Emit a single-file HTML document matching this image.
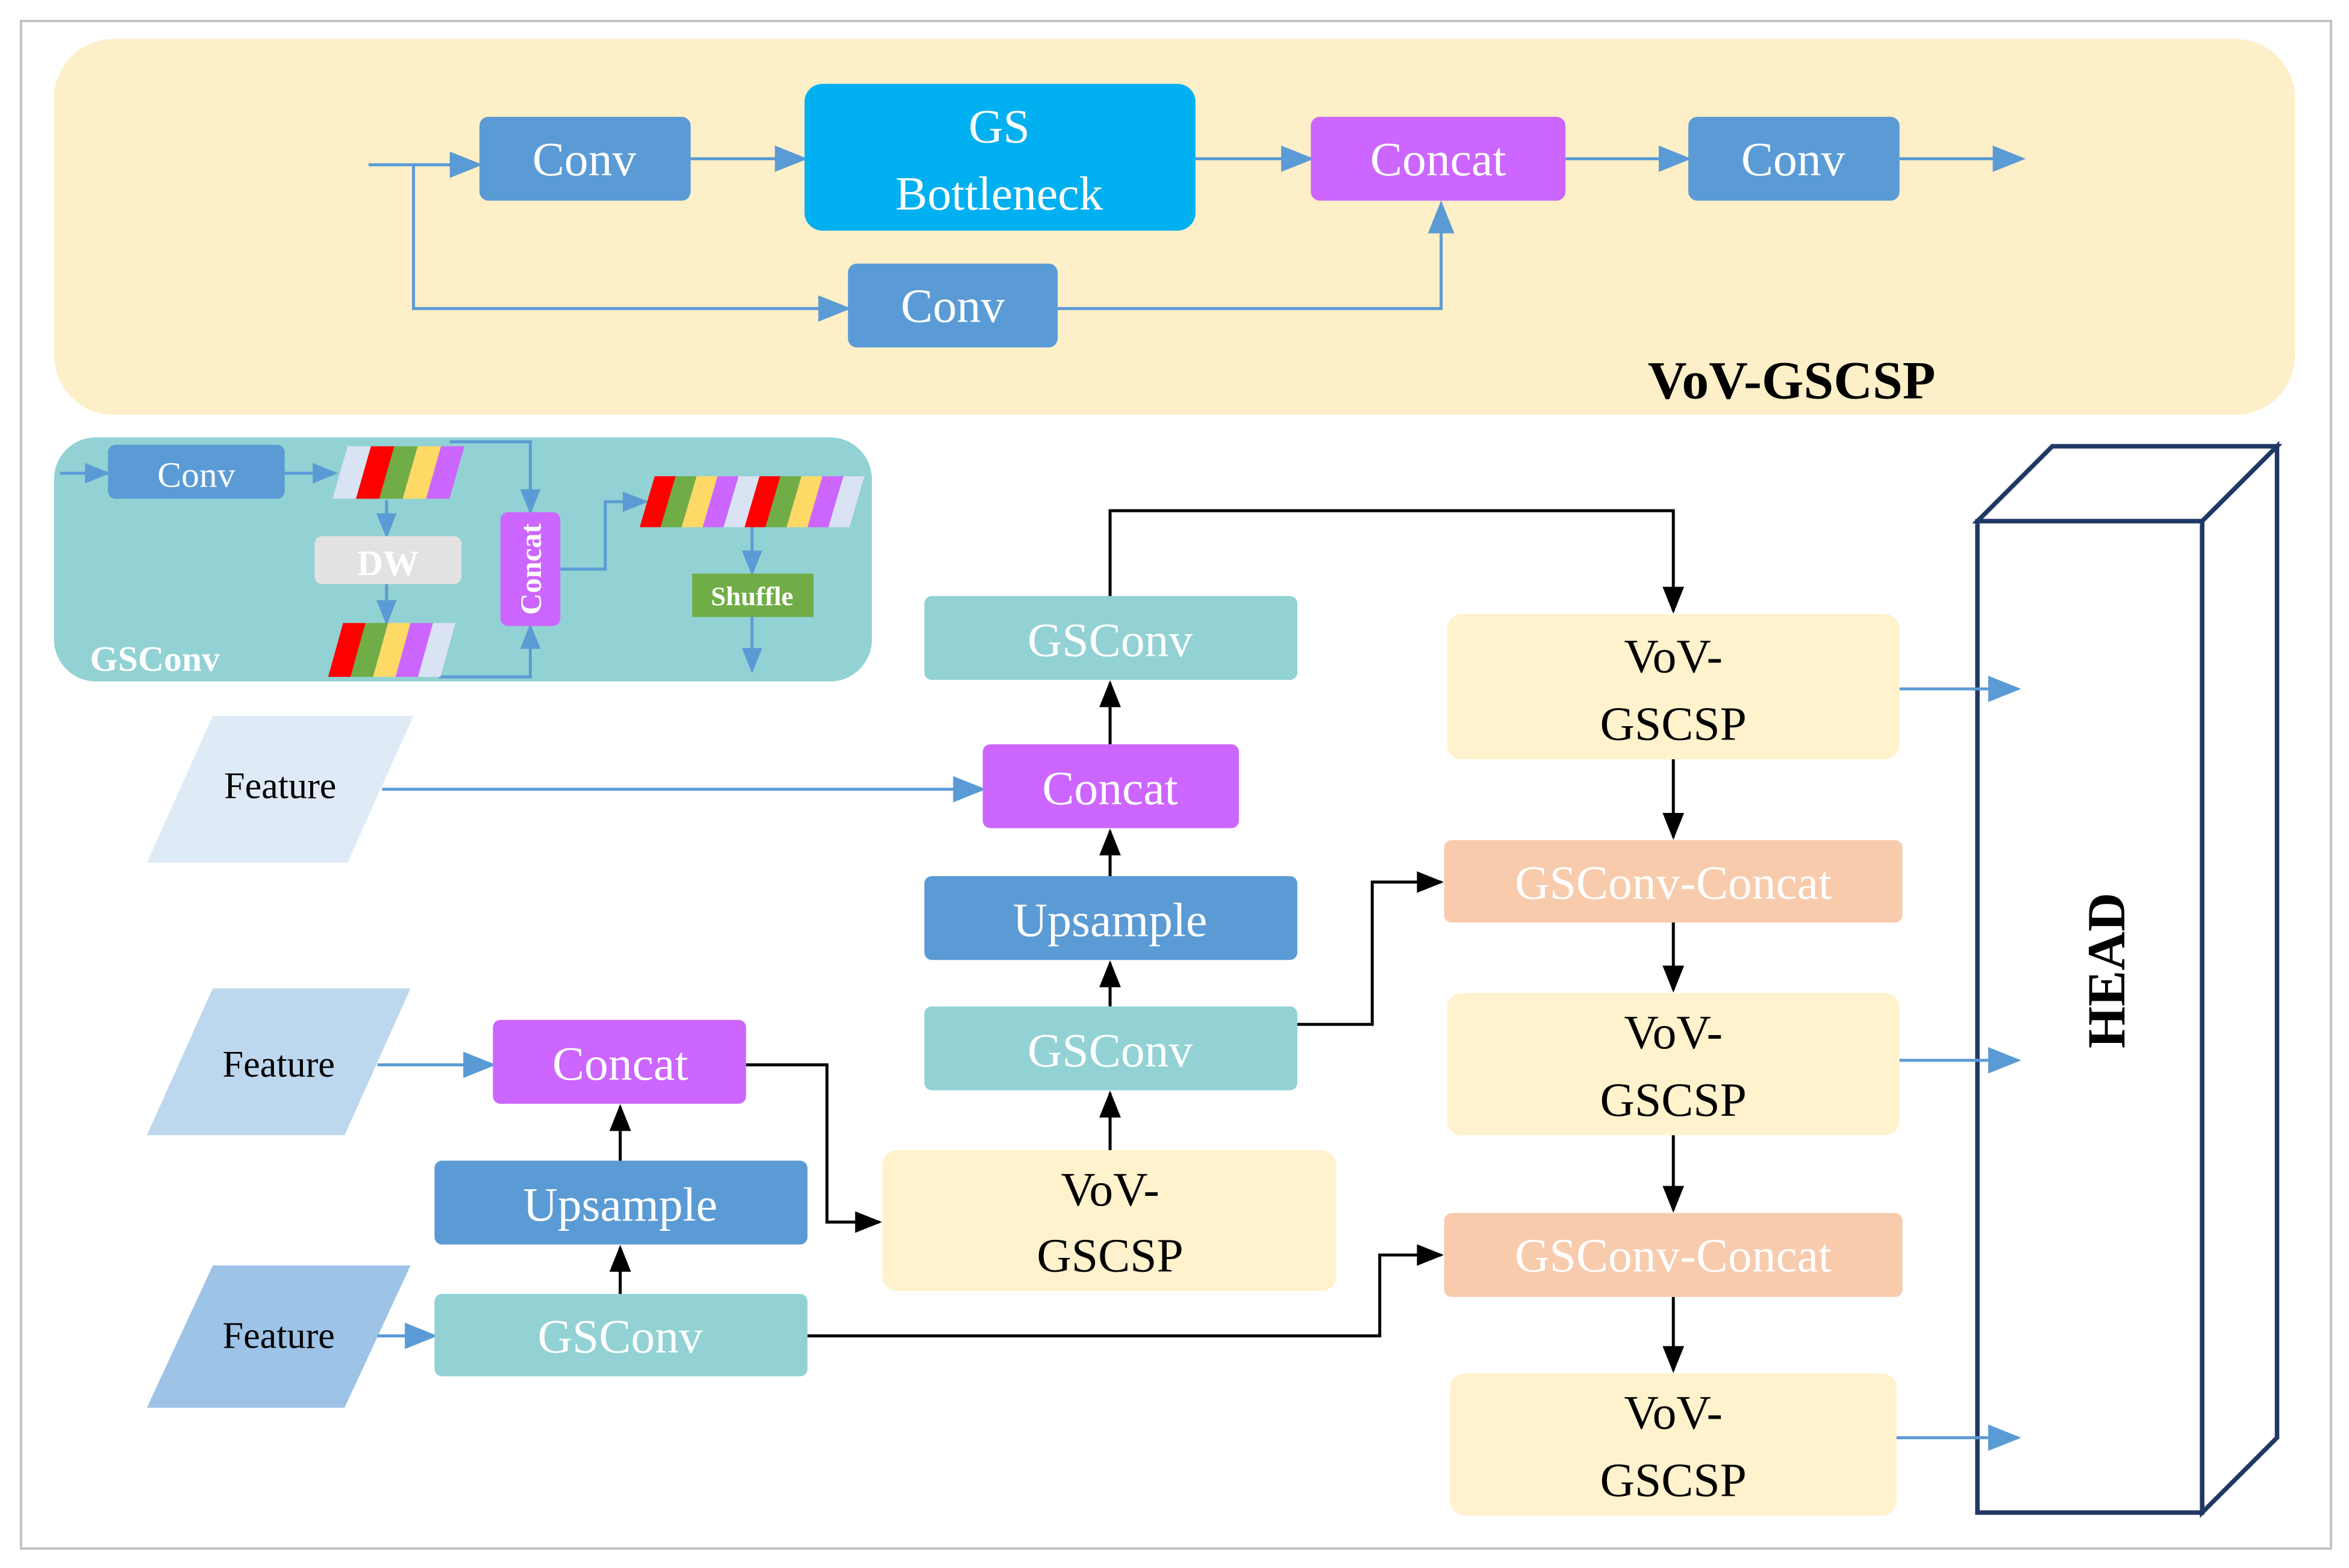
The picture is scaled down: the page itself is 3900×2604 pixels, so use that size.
<!DOCTYPE html>
<html><head><meta charset="utf-8"><style>
html,body{margin:0;padding:0;background:#fff;}
svg{display:block;}
text{font-family:"Liberation Serif",serif;}
</style></head><body>
<svg width="3900" height="2604" viewBox="0 0 1568 1047" xmlns="http://www.w3.org/2000/svg">
<defs>
<marker id="ab" viewBox="0 0 10 10" refX="9" refY="5" markerWidth="17" markerHeight="17" markerUnits="userSpaceOnUse" orient="auto"><path d="M0,1 L10,5 L0,9 z" fill="#5b9bd5"/></marker>
<marker id="abl" viewBox="0 0 10 10" refX="9" refY="5" markerWidth="22" markerHeight="22" markerUnits="userSpaceOnUse" orient="auto"><path d="M0,1 L10,5 L0,9 z" fill="#5b9bd5"/></marker>
<marker id="ak" viewBox="0 0 10 10" refX="9" refY="5" markerWidth="18" markerHeight="18" markerUnits="userSpaceOnUse" orient="auto"><path d="M0,1 L10,5 L0,9 z" fill="#000"/></marker>
</defs>
<rect x="0" y="0" width="1568" height="1047" fill="#fff"/>
<rect x="14" y="14" width="1542" height="1020" fill="none" stroke="#bfbfbf" stroke-width="1.5"/>

<!-- top panel -->
<rect x="36" y="26" width="1496" height="251" rx="40" fill="#fdefc7"/>
<g stroke="#5b9bd5" stroke-width="2" fill="none" marker-end="url(#abl)">
<line x1="246" y1="110" x2="320" y2="110"/>
<line x1="461" y1="106" x2="537" y2="106"/>
<line x1="798" y1="106" x2="875" y2="106"/>
<line x1="1045" y1="106" x2="1127" y2="106"/>
<line x1="1268" y1="106" x2="1350" y2="106"/>
<polyline points="276,110 276,206 566,206"/>
<polyline points="706,206 962,206 962,136"/>
</g>
<g font-size="32" fill="#fff" text-anchor="middle">
<rect x="320" y="78" width="141" height="56" rx="6" fill="#5b9bd5"/><text x="390" y="117">Conv</text>
<rect x="537" y="56" width="261" height="98" rx="12" fill="#00b0f0"/><text x="667" y="95">GS</text><text x="667" y="140">Bottleneck</text>
<rect x="875" y="78" width="170" height="56" rx="6" fill="#cc66ff"/><text x="960" y="117">Concat</text>
<rect x="1127" y="78" width="141" height="56" rx="6" fill="#5b9bd5"/><text x="1197" y="117">Conv</text>
<rect x="566" y="176" width="140" height="56" rx="6" fill="#5b9bd5"/><text x="636" y="215">Conv</text>
</g>
<text x="1196" y="266" font-size="36" font-weight="bold" text-anchor="middle" fill="#000">VoV-GSCSP</text>

<!-- GSConv inset -->
<rect x="36" y="292" width="546" height="163" rx="28" fill="#92d2d4"/>
<g stroke="#5b9bd5" stroke-width="2" fill="none" marker-end="url(#ab)">
<line x1="40" y1="316" x2="72" y2="316"/>
<line x1="190" y1="316" x2="224" y2="316"/>
<line x1="258" y1="334" x2="258" y2="358"/>
<line x1="258" y1="390" x2="258" y2="416"/>
<polyline points="300,295 354,295 354,342"/>
<polyline points="293,452 354,452 354,418"/>
<polyline points="374,380 404,380 404,335 431,335"/>
<line x1="502" y1="352" x2="502" y2="383"/>
<line x1="502" y1="412" x2="502" y2="448"/>
</g>
<rect x="72" y="297" width="118" height="36" rx="5" fill="#5b9bd5"/>
<text x="131" y="325" font-size="24" fill="#fff" text-anchor="middle">Conv</text>
<g>
<polygon points="232,298 247.6,298 237.6,333 222,333" fill="#dae3f3"/>
<polygon points="247.6,298 263.2,298 253.2,333 237.6,333" fill="#ff0000"/>
<polygon points="263.2,298 278.8,298 268.8,333 253.2,333" fill="#70ad47"/>
<polygon points="278.8,298 294.4,298 284.4,333 268.8,333" fill="#ffd966"/>
<polygon points="294.4,298 310,298 300,333 284.4,333" fill="#cc66ff"/>
</g>
<g>
<polygon points="229,416 244,416 234,452 219,452" fill="#ff0000"/>
<polygon points="244,416 259,416 249,452 234,452" fill="#70ad47"/>
<polygon points="259,416 274,416 264,452 249,452" fill="#ffd966"/>
<polygon points="274,416 289,416 279,452 264,452" fill="#cc66ff"/>
<polygon points="289,416 304,416 294,452 279,452" fill="#dae3f3"/>
</g>
<g>
<polygon points="437,318 451,318 441,352 427,352" fill="#ff0000"/>
<polygon points="451,318 465,318 455,352 441,352" fill="#70ad47"/>
<polygon points="465,318 479,318 469,352 455,352" fill="#ffd966"/>
<polygon points="479,318 493,318 483,352 469,352" fill="#cc66ff"/>
<polygon points="493,318 507,318 497,352 483,352" fill="#dae3f3"/>
<polygon points="507,318 521,318 511,352 497,352" fill="#ff0000"/>
<polygon points="521,318 535,318 525,352 511,352" fill="#70ad47"/>
<polygon points="535,318 549,318 539,352 525,352" fill="#ffd966"/>
<polygon points="549,318 563,318 553,352 539,352" fill="#cc66ff"/>
<polygon points="563,318 577,318 567,352 553,352" fill="#dae3f3"/>
</g>
<rect x="210" y="358" width="98" height="32" rx="5" fill="#e2e2e2"/>
<text x="259" y="384" font-size="24" font-weight="bold" fill="#fff" text-anchor="middle">DW</text>
<rect x="334" y="342" width="40" height="76" rx="5" fill="#cc66ff"/>
<text x="0" y="0" font-size="20" font-weight="bold" fill="#fff" text-anchor="middle" transform="translate(361,380) rotate(-90)">Concat</text>
<rect x="462" y="383" width="81" height="29" fill="#70ad47"/>
<text x="502" y="404" font-size="18" font-weight="bold" fill="#fff" text-anchor="middle">Shuffle</text>
<text x="60" y="448" font-size="24" font-weight="bold" fill="#fff">GSConv</text>

<!-- features -->
<polygon points="142,478 276,478 232,576 98,576" fill="#deebf7"/>
<polygon points="142,660 274,660 230,758 98,758" fill="#bdd7ee"/>
<polygon points="142,845 274,845 230,940 98,940" fill="#9dc3e6"/>
<g font-size="25" fill="#000" text-anchor="middle">
<text x="187" y="533">Feature</text>
<text x="186" y="719">Feature</text>
<text x="186" y="900">Feature</text>
</g>
<g stroke="#5b9bd5" stroke-width="2" fill="none" marker-end="url(#abl)">
<line x1="255" y1="527" x2="656" y2="527"/>
<line x1="252" y1="711" x2="329" y2="711"/>
<line x1="252" y1="892" x2="290" y2="892"/>
</g>

<!-- black connectors -->
<g stroke="#000" stroke-width="2" fill="none" marker-end="url(#ak)">
<polyline points="741,398 741,341 1117,341 1117,408"/>
<line x1="741" y1="497" x2="741" y2="456"/>
<line x1="741" y1="585" x2="741" y2="555"/>
<line x1="741" y1="672" x2="741" y2="643"/>
<line x1="741" y1="768" x2="741" y2="730"/>
<line x1="414" y1="864" x2="414" y2="833"/>
<line x1="414" y1="775" x2="414" y2="739"/>
<polyline points="498,711 552,711 552,816 587,816"/>
<polyline points="539,892 921,892 921,838 962,838"/>
<polyline points="866,684 916,684 916,589 962,589"/>
<line x1="1117" y1="507" x2="1117" y2="559"/>
<line x1="1117" y1="616" x2="1117" y2="661"/>
<line x1="1117" y1="758" x2="1117" y2="808"/>
<line x1="1117" y1="866" x2="1117" y2="915"/>
</g>

<!-- main boxes -->
<g font-size="32" text-anchor="middle">
<rect x="329" y="681" width="169" height="56" rx="5" fill="#cc66ff"/><text x="414" y="721" fill="#fff">Concat</text>
<rect x="290" y="775" width="249" height="56" rx="5" fill="#5b9bd5"/><text x="414" y="815" fill="#fff">Upsample</text>
<rect x="290" y="864" width="249" height="55" rx="5" fill="#92d2d4"/><text x="414" y="903" fill="#fff">GSConv</text>
<rect x="589" y="768" width="303" height="94" rx="10" fill="#fff2cc"/><text x="741" y="805" fill="#000">VoV-</text><text x="741" y="849" fill="#000">GSCSP</text>
<rect x="617" y="672" width="249" height="56" rx="5" fill="#92d2d4"/><text x="741" y="712" fill="#fff">GSConv</text>
<rect x="617" y="585" width="249" height="56" rx="5" fill="#5b9bd5"/><text x="741" y="625" fill="#fff">Upsample</text>
<rect x="656" y="497" width="171" height="56" rx="5" fill="#cc66ff"/><text x="741" y="537" fill="#fff">Concat</text>
<rect x="617" y="398" width="249" height="56" rx="5" fill="#92d2d4"/><text x="741" y="438" fill="#fff">GSConv</text>
<rect x="966" y="410" width="302" height="97" rx="10" fill="#fff2cc"/><text x="1117" y="449" fill="#000">VoV-</text><text x="1117" y="494" fill="#000">GSCSP</text>
<rect x="964" y="561" width="306" height="55" rx="5" fill="#f8cbad"/><text x="1117" y="600" fill="#fff">GSConv-Concat</text>
<rect x="966" y="663" width="302" height="95" rx="10" fill="#fff2cc"/><text x="1117" y="700" fill="#000">VoV-</text><text x="1117" y="745" fill="#000">GSCSP</text>
<rect x="964" y="810" width="306" height="56" rx="5" fill="#f8cbad"/><text x="1117" y="849" fill="#fff">GSConv-Concat</text>
<rect x="968" y="917" width="298" height="95" rx="10" fill="#fff2cc"/><text x="1117" y="954" fill="#000">VoV-</text><text x="1117" y="999" fill="#000">GSCSP</text>
</g>

<!-- HEAD -->
<g stroke="#203864" stroke-width="3" fill="#fff" stroke-linejoin="miter">
<polygon points="1320,348 1370,298 1520,298 1470,348"/>
<polygon points="1470,348 1520,298 1520,960 1470,1010"/>
<rect x="1320" y="348" width="150" height="662"/>
</g>
<text x="0" y="0" font-size="36" font-weight="bold" text-anchor="middle" fill="#000" transform="translate(1418,648) rotate(-90)">HEAD</text>
<g stroke="#5b9bd5" stroke-width="2" fill="none" marker-end="url(#abl)">
<line x1="1268" y1="460" x2="1347" y2="460"/>
<line x1="1268" y1="708" x2="1347" y2="708"/>
<line x1="1266" y1="960" x2="1347" y2="960"/>
</g>
</svg>
</body></html>
